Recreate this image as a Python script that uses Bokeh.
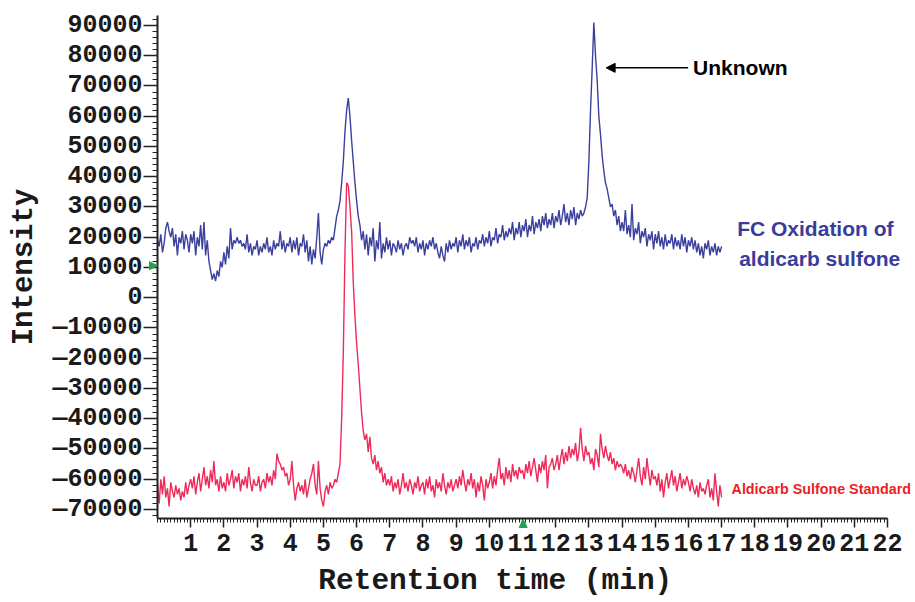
import numpy as np
from bokeh.plotting import figure
from bokeh.models import Range1d, FixedTicker, Label, Arrow, NormalHead
from bokeh.embed import file_html
from bokeh.resources import INLINE

# ---------------- data (intensity in thousands, sampled every 0.05 min) -------------
time_start_min = 0.0
time_step_min = 0.05

fc_oxidation_k = [
    19, 17, 21, 15, 18, 23, 25, 22, 20, 23, 17, 21, 14, 20, 18, 22, 16, 21, 19, 15,
    21, 18, 22, 14, 20, 17, 24, 16, 25, 14, 19, 12, 9, 6, 8, 5.5, 9, 7, 12, 10,
    15, 11, 17, 13, 23, 16, 19, 18, 20, 18, 19, 17, 18, 16, 21, 15, 18, 14, 17, 16,
    19, 14, 17, 15, 18, 16, 20, 15, 17, 14, 19, 16, 18, 17, 22, 16, 19, 15, 18, 17,
    20, 15, 19, 16, 20, 14, 18, 17, 21, 15, 19, 12, 17, 11, 16, 13, 20, 28, 15, 11,
    16, 18, 17, 19, 18, 20, 19, 23, 27, 29, 32, 38, 45, 55, 62, 66, 60, 52, 45, 38,
    32, 27, 24, 19, 22, 16, 21, 14, 20, 17, 23, 12, 19, 16, 25, 13, 18, 15, 20, 16,
    19, 14, 18, 17, 15, 19, 16, 18, 14, 17, 18, 16, 20, 18, 19, 17, 20, 15, 18, 16,
    19, 14, 18, 16, 19, 17, 20, 16, 18, 15, 13, 17, 14, 12, 18, 15, 19, 16, 18, 17,
    20, 15, 19, 17, 21, 16, 19, 17, 20, 15, 18, 17, 20, 16, 19, 18, 21, 17, 20, 18,
    22, 17, 20, 19, 23, 18, 21, 20, 24, 19, 22, 20, 23, 21, 25, 19, 23, 21, 25, 20,
    24, 22, 26, 20, 24, 22, 27, 21, 25, 23, 26, 22, 27, 24, 28, 23, 26, 24, 28, 23,
    27, 25, 29, 24, 27, 31, 25, 28, 24, 29, 26, 30, 24, 28, 26, 29, 27, 28, 30, 33,
    45, 62, 76, 91, 80, 72, 60, 54, 47, 42, 38, 36, 33, 30, 31, 27, 29, 24, 27, 22,
    25, 22, 29, 21, 24, 20, 31, 19, 23, 21, 25, 18, 22, 20, 23, 17, 21, 19, 22, 16,
    21, 18, 22, 17, 20, 16, 21, 17, 19, 18, 21, 16, 20, 17, 19, 16, 21, 17, 20, 15,
    19, 17, 20, 16, 19, 15, 18, 14, 17, 13, 18, 16, 19, 14, 17, 15, 18, 14, 17, 15,
    17,
]

standard_k = [
    -62, -68, -60, -65, -59, -66, -63, -69, -61, -64, -66, -62, -65, -63, -67, -64, -66, -61, -65, -62,
    -60, -63, -59, -65, -61, -58, -64, -60, -56, -62, -59, -63, -57, -61, -54, -62, -60, -64, -59, -63,
    -61, -64, -58, -62, -60, -57, -63, -59, -61, -58, -64, -60, -62, -59, -63, -56, -61, -64, -60, -62,
    -62, -59, -64, -61, -60, -63, -58, -61, -59, -62, -57, -60, -51.5, -54, -55, -57, -56, -59, -58, -62,
    -60, -54, -62, -67, -63, -61, -64, -62, -65, -60, -66, -63, -60, -58, -55, -62, -65, -54, -63, -67,
    -69, -64, -62, -65, -61, -63, -62, -60, -61, -58, -55, -40, -18, 15, 38, 37, 30, 22, 5, -6,
    -15, -22, -30, -38, -44, -47, -45, -51, -46, -53, -55, -52, -57, -54, -58, -56, -61, -58, -62, -60,
    -62, -59, -64, -61, -63, -60, -65, -62, -58, -63, -61, -64, -60, -62, -65, -61, -63, -59, -64, -62,
    -61, -65, -60, -63, -59, -64, -62, -66, -60, -63, -61, -64, -58, -62, -65, -61, -63, -60, -64, -62,
    -60, -63, -59, -62, -57, -61, -64, -60, -62, -58, -63, -60, -66, -61, -64, -59, -62, -67, -60, -63,
    -61, -58, -63, -59, -62, -57, -53, -60, -58, -62, -56, -60, -57, -61, -55, -59, -57, -60, -56, -58,
    -57, -60, -55, -58, -54, -59, -56, -53, -57, -61, -55, -58, -54, -57, -52, -63, -56, -55, -53, -57,
    -55, -52, -57, -53, -50, -55, -51, -54, -49, -53, -50, -52, -48, -54, -51, -43, -50, -54, -49, -52,
    -51, -55, -53, -57, -50, -52, -56, -45, -50, -53, -49, -52, -54, -51, -55, -53, -57, -54, -56, -55,
    -56, -58, -55, -59, -57, -60, -56, -58, -61, -57, -53, -59, -62, -56, -60, -53, -58, -62, -57, -60,
    -59, -62, -58, -64, -60, -66, -61, -58, -63, -60, -57, -62, -59, -64, -61, -58, -63, -60, -62, -59,
    -61, -64, -60, -63, -65, -62, -66, -61, -64, -63, -65, -62, -60, -66, -63, -67, -58, -64, -69, -62,
    -66,
]

x_tick_values = list(range(1, 23))
y_tick_values = list(range(-70000, 90001, 10000))
y_tick_labels = ["—70000", "—60000", "—50000", "—40000", "—30000", "—20000", "—10000",
                 "0", "10000", "20000", "30000", "40000", "50000", "60000", "70000",
                 "80000", "90000"]

series_names = ["FC Oxidation of", "aldicarb sulfone", "Aldicarb Sulfone Standard"]
peak_label = "Unknown"
x_title = "Retention time (min)"
y_title = "Intensity"

# ---------------- build --------------------------------------------------------------
n = len(fc_oxidation_k)
t = time_start_min + time_step_min * np.arange(n)
blue = np.array(fc_oxidation_k) * 1000.0
red = np.array(standard_k) * 1000.0

BLUE = "#3b3f9e"
RED = "#ee2a5a"
INK = "#1a1a1a"
MONO = "Liberation Mono"
SANS = "Liberation Sans"

W, H = 912, 600
# The frame fills the whole canvas; axes are pinned at x=0 / y=-73000 and bounded,
# so that texts and marks placed outside the axes are not clipped.
X0, X1 = -4.7315, 22.753
Y0, Y1 = -100083, 98264
AX_X = (0, 22)
AX_Y = (-73000, 93200)

p = figure(width=W, height=H, output_backend="svg", toolbar_location=None,
           x_range=Range1d(X0, X1), y_range=Range1d(Y0, Y1),
           min_border_left=0, min_border_right=0, min_border_top=0,
           min_border_bottom=0)
p.outline_line_color = None
p.xgrid.visible = False
p.ygrid.visible = False
p.background_fill_color = "white"
p.border_fill_color = "white"

p.line(t, blue, line_color=BLUE, line_width=1.4)
p.line(t, red, line_color=RED, line_width=1.4)

# axes
for ax in (p.xaxis[0], p.yaxis[0]):
    ax.axis_line_color = "#222222"
    ax.axis_line_width = 2
    ax.major_tick_line_color = "#222222"
    ax.minor_tick_line_color = "#222222"
    ax.major_tick_line_width = 1.5
    ax.major_tick_in = 0
    ax.minor_tick_in = 0
    ax.major_label_text_font = MONO
    ax.major_label_text_font_style = "bold"
    ax.major_label_text_font_size = "25px"
    ax.major_label_text_color = INK

p.xaxis.fixed_location = AX_Y[0]
p.xaxis.bounds = AX_X
p.xaxis.ticker = FixedTicker(ticks=x_tick_values,
                             minor_ticks=[i / 10 for i in range(0, 221)])
p.xaxis.major_tick_out = 9
p.xaxis.minor_tick_out = 4
p.xaxis.major_label_standoff = 6

p.yaxis.fixed_location = AX_X[0]
p.yaxis.bounds = AX_Y
p.yaxis.ticker = FixedTicker(ticks=y_tick_values,
                             minor_ticks=list(range(-72000, 93001, 2000)))
p.yaxis.major_label_overrides = {v: s for v, s in zip(y_tick_values, y_tick_labels)}
p.yaxis.major_tick_out = 14
p.yaxis.minor_tick_out = 5
p.yaxis.major_label_standoff = 1
p.yaxis.axis_label = y_title
p.yaxis.axis_label_text_font = MONO
p.yaxis.axis_label_text_font_style = "bold"
p.yaxis.axis_label_text_font_size = "29px"
p.yaxis.axis_label_text_color = INK
p.yaxis.axis_label_standoff = 8

# x title (placed left of centre, like the original)
p.add_layout(Label(x=10.18, y=-93500, text=x_title, text_align="center",
                   text_baseline="middle", text_font=MONO, text_font_style="bold",
                   text_font_size="29.5px", text_color=INK))

# annotations
p.add_layout(Label(x=16.14, y=76000, text=peak_label, text_baseline="middle",
                   text_font=SANS, text_font_style="bold", text_font_size="21px",
                   text_color="black"))
p.add_layout(Arrow(x_start=15.99, y_start=76000, x_end=13.52, y_end=76000,
                   line_color="black", line_width=1.5,
                   end=NormalHead(size=9, fill_color="black", line_color="black")))

p.add_layout(Label(x=17.47, y=22800, text=series_names[0], text_baseline="middle",
                   text_font=SANS, text_font_style="bold", text_font_size="21px",
                   text_color="#3a3c9c"))
p.add_layout(Label(x=17.53, y=12900, text=series_names[1], text_baseline="middle",
                   text_font=SANS, text_font_style="bold", text_font_size="21px",
                   text_color="#3a3c9c"))
p.add_layout(Label(x=17.3, y=-63100, text=series_names[2], text_baseline="middle",
                   text_font=SANS, text_font_style="bold", text_font_size="14.3px",
                   text_color="#ee1c24"))

# green marker triangles on the axes
GREEN = "#22a050"
p.add_layout(Arrow(x_start=-0.3, y_start=10600, x_end=0.0, y_end=10600,
                   line_alpha=0, line_width=0,
                   end=NormalHead(size=8, fill_color=GREEN, line_color=GREEN)))
p.add_layout(Arrow(x_start=11.02, y_start=-76500, x_end=11.02, y_end=-73300,
                   line_alpha=0, line_width=0,
                   end=NormalHead(size=8, fill_color=GREEN, line_color=GREEN)))

open("out.html", "w").write(file_html(p, INLINE))
